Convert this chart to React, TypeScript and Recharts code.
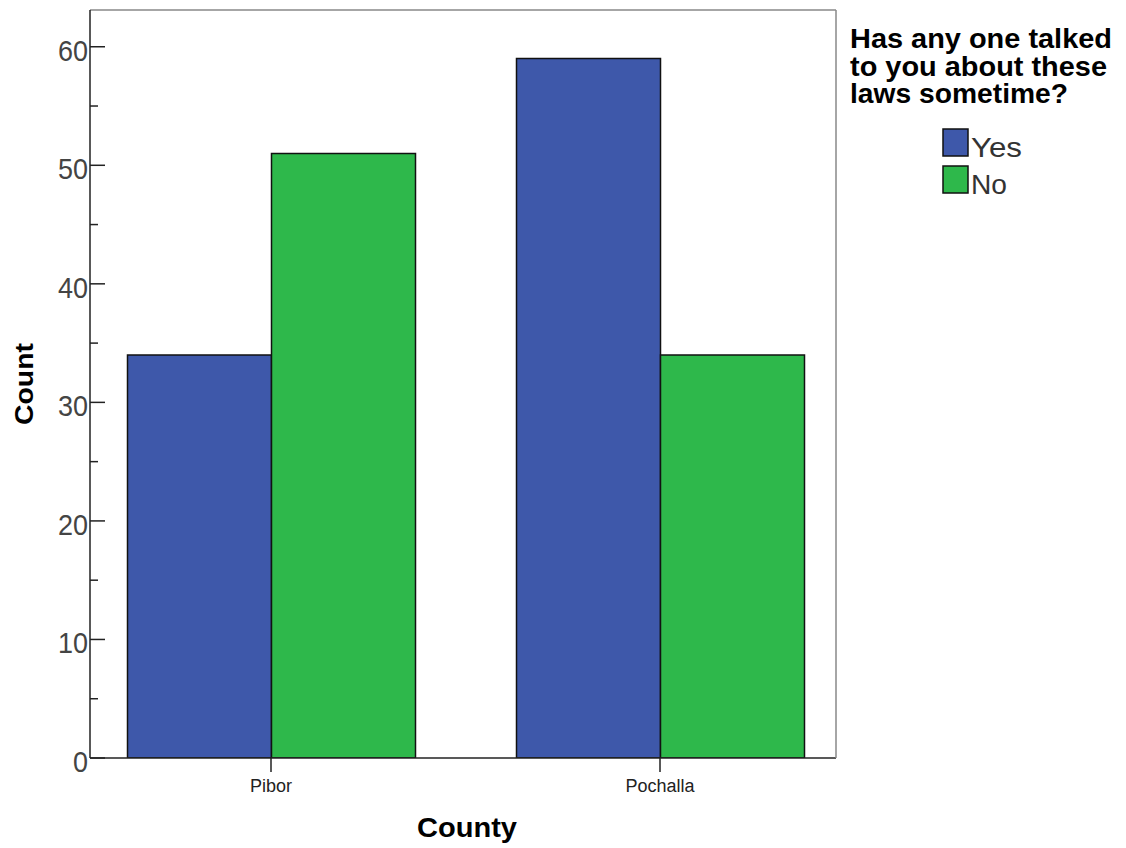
import React from 'react';
import { BarChart, Bar, XAxis, YAxis } from 'recharts';

const counties = ['Pibor', 'Pochalla'];
const yesCounts = [34, 59];
const noCounts = [51, 34];
const yTicks = [0, 5, 10, 15, 20, 25, 30, 35, 40, 45, 50, 55, 60];
const legendTitle = ['Has any one talked', 'to you about these', 'laws sometime?'];
const legendTitleWidths = [262, 257, 218];
const seriesNames = ['Yes', 'No'];

const data = counties.map((c, i) => ({ county: c, yes: yesCounts[i], no: noCounts[i] }));

const FONT = '"Liberation Sans", Arial, sans-serif';
const BLUE = '#3E58AA';
const GREEN = '#2EB84B';

const YTick = (props: any) => {
  const { x, y, payload } = props;
  const v = payload.value;
  const major = v % 10 === 0;
  return (
    <g>
      <line x1={x} x2={x + (major ? 15 : 8)} y1={y} y2={y} stroke="#222" strokeWidth={1.5} />
      {major && (
        <text x={x - 2} y={y + 14} textAnchor="end" fontSize={30} fill="#444" fontFamily={FONT}
          textLength={String(v).length * 15} lengthAdjust="spacingAndGlyphs">
          {v}
        </text>
      )}
    </g>
  );
};

const XTick = (props: any) => {
  const { x, y, payload } = props;
  return (
    <g>
      <line x1={x} x2={x} y1={y} y2={y + 14} stroke="#222" strokeWidth={1.5} />
      <text x={x} y={y + 34} textAnchor="middle" fontSize={18} fill="#222" fontFamily={FONT}>
        {payload.value}
      </text>
    </g>
  );
};

const Legendish = () => (
  <svg width={1126} height={848} style={{ position: 'absolute', left: 0, top: 0, pointerEvents: 'none' }}>
    {legendTitle.map((t, i) => (
      <text key={t} x={850} y={48 + i * 27.5} fontSize={27} fontWeight="bold" fill="#000" fontFamily={FONT}
        textLength={legendTitleWidths[i]} lengthAdjust="spacingAndGlyphs">
        {t}
      </text>
    ))}
    {seriesNames.map((s, i) => (
      <g key={s}>
        <rect x={943} y={129 + i * 37} width={25} height={27} fill={i === 0 ? BLUE : GREEN} stroke="#111" strokeWidth={1.5} />
        <text x={971} y={157 + i * 37} fontSize={28} fill="#333" fontFamily={FONT}
          textLength={s.length === 3 ? 51 : 36} lengthAdjust="spacingAndGlyphs">
          {s}
        </text>
      </g>
    ))}
    <text x={467} y={837} textAnchor="middle" fontSize={27} fontWeight="bold" fill="#000" fontFamily={FONT}
      textLength={100} lengthAdjust="spacingAndGlyphs">
      County
    </text>
    <text x={33} y={384} transform="rotate(-90 33 384)" textAnchor="middle" fontSize={26} fontWeight="bold" fill="#000" fontFamily={FONT}
      textLength={82} lengthAdjust="spacingAndGlyphs">
      Count
    </text>
  </svg>
);

export default function App() {
  return (
    <div style={{ position: 'absolute', left: 0, top: 0, width: 1126, height: 848, background: '#fff' }}>
      <BarChart
        width={1126}
        height={848}
        data={data}
        margin={{ top: 9, left: 89, right: 289, bottom: 89 }}
        barGap={0}
        barSize={144}
      >
        <XAxis
          dataKey="county"
          height={1}
          padding={{ left: -13.5, right: -18.5 }}
          tickSize={0}
          tickMargin={0}
          tickLine={false}
          axisLine={{ stroke: '#222', strokeWidth: 1.5 }}
          tick={<XTick />}
          interval={0}
        />
        <XAxis xAxisId="top" orientation="top" dataKey="county" height={1} tick={false} tickLine={false}
          axisLine={{ stroke: '#888', strokeWidth: 1.5 }} />
        <YAxis
          width={1}
          domain={[0, 63.1]}
          ticks={yTicks}
          type="number"
          allowDataOverflow
          tickSize={0}
          tickMargin={0}
          tickLine={false}
          axisLine={{ stroke: '#222', strokeWidth: 1.5 }}
          tick={<YTick />}
          interval={0}
        />
        <YAxis yAxisId="right" orientation="right" width={1} tick={false} tickLine={false}
          axisLine={{ stroke: '#888', strokeWidth: 1.5 }} />
        <Bar dataKey="yes" name="Yes" fill={BLUE} stroke="#111" strokeWidth={1.5} isAnimationActive={false} />
        <Bar dataKey="no" name="No" fill={GREEN} stroke="#111" strokeWidth={1.5} isAnimationActive={false} />
      </BarChart>
      <Legendish />
    </div>
  );
}
